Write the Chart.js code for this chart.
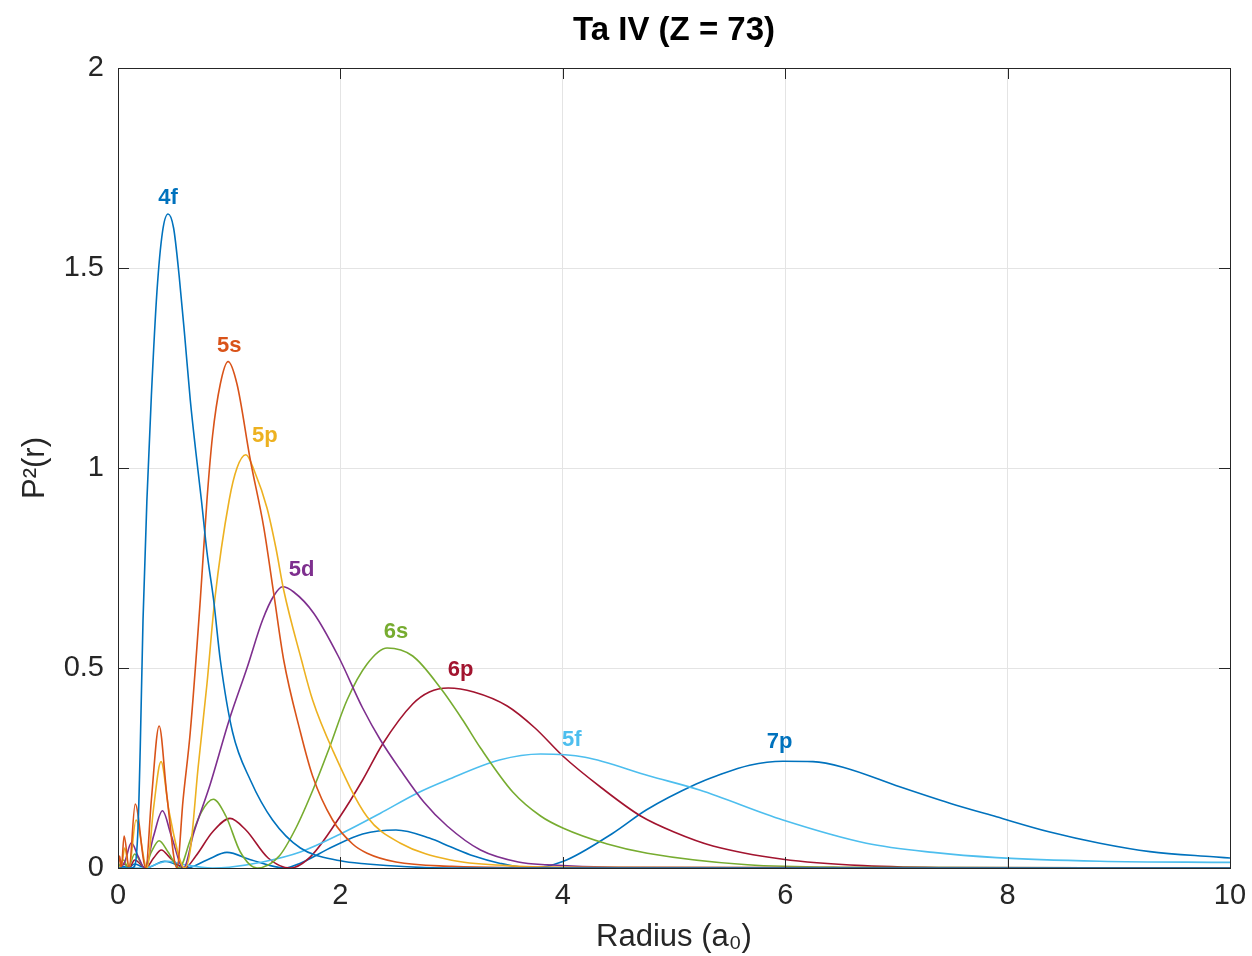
<!DOCTYPE html>
<html>
<head>
<meta charset="utf-8">
<script src="https://cdn.jsdelivr.net/npm/chart.js@4"></script>
<style>
  html, body { margin: 0; padding: 0; background: #fff; }
  #wrap { width: 1252px; height: 956px; }
</style>
</head>
<body>
<div id="wrap"><canvas id="orbChart" width="1252" height="956"></canvas></div>
<script>
// radial densities P^2(r), r in a0
const r4f = [0, 0.12, 0.15, 0.18, 0.2, 0.225, 0.26, 0.3, 0.35, 0.4, 0.45, 0.5, 0.55, 0.6, 0.65, 0.7, 0.75, 0.8, 0.86, 0.92, 1.03, 1.19, 1.39, 1.64, 2.0, 2.24, 2.6, 3.0, 10];
const p4f = [0, 0, 0.005, 0.1, 0.3, 0.62, 0.92, 1.18, 1.44, 1.59, 1.635, 1.6, 1.48, 1.33, 1.17, 1.04, 0.92, 0.79, 0.67, 0.52, 0.34, 0.22, 0.12, 0.05, 0.018, 0.01, 0.003, 0, 0];

const r5s = [0, 0.015, 0.03, 0.055, 0.1, 0.155, 0.25, 0.3, 0.37, 0.44, 0.53, 0.585, 0.65, 0.74, 0.8, 0.85, 0.92, 0.99, 1.07, 1.19, 1.31, 1.4, 1.49, 1.64, 1.75, 1.93, 2.11, 2.24, 2.5, 3.0, 3.5, 10];
const p5s = [0, 0.03, 0, 0.08, 0, 0.16, 0, 0.17, 0.355, 0.18, 0, 0.17, 0.34, 0.67, 0.92, 1.08, 1.21, 1.266, 1.21, 1.02, 0.853, 0.687, 0.52, 0.34, 0.23, 0.12, 0.06, 0.037, 0.015, 0.004, 0.001, 0];

const r5p = [0, 0.035, 0.06, 0.1, 0.162, 0.26, 0.32, 0.387, 0.46, 0.6, 0.65, 0.72, 0.8, 0.87, 1.0, 1.07, 1.15, 1.23, 1.34, 1.42, 1.49, 1.65, 1.75, 1.93, 2.24, 2.54, 2.99, 3.5, 4.0, 10];
const p5p = [0, 0.01, 0.05, 0, 0.12, 0, 0.15, 0.266, 0.14, 0, 0.045, 0.25, 0.46, 0.67, 0.92, 1.0, 1.033, 0.99, 0.9, 0.8, 0.695, 0.52, 0.42, 0.295, 0.128, 0.062, 0.02, 0.006, 0.002, 0];

const r5d = [0, 0.06, 0.12, 0.18, 0.24, 0.32, 0.4, 0.48, 0.59, 0.68, 0.83, 1.0, 1.16, 1.3, 1.4, 1.48, 1.58, 1.76, 1.98, 2.2, 2.36, 2.54, 2.75, 2.96, 3.26, 3.6, 3.86, 4.5, 10];
const p5d = [0, 0.015, 0.063, 0.03, 0, 0.08, 0.143, 0.08, 0, 0.087, 0.21, 0.37, 0.5, 0.62, 0.68, 0.703, 0.69, 0.637, 0.53, 0.4, 0.32, 0.245, 0.165, 0.105, 0.045, 0.015, 0.008, 0.002, 0];

const r6s = [0, 0.05, 0.09, 0.15, 0.24, 0.3, 0.37, 0.45, 0.55, 0.65, 0.75, 0.857, 0.97, 1.1, 1.25, 1.45, 1.6, 1.76, 1.9, 2.06, 2.24, 2.42, 2.65, 2.9, 3.1, 3.26, 3.55, 3.8, 4.0, 4.4, 4.76, 5.66, 6.5, 10];
const p6s = [0, 0.02, 0, 0.035, 0, 0.04, 0.068, 0.04, 0, 0.07, 0.14, 0.172, 0.13, 0.04, 0, 0.03, 0.1, 0.2, 0.3, 0.42, 0.51, 0.55, 0.53, 0.45, 0.37, 0.30, 0.19, 0.13, 0.10, 0.06, 0.037, 0.008, 0.002, 0];

const r5f = [0, 0.25, 0.35, 0.45, 0.6, 0.85, 1.0, 1.3, 1.64, 2.0, 2.36, 2.69, 2.96, 3.43, 3.8, 4.2, 4.78, 5.23, 5.98, 6.73, 7.33, 7.9, 8.83, 10];
const p5f = [0, 0, 0.01, 0.017, 0.008, 0, 0.002, 0.015, 0.04, 0.085, 0.137, 0.187, 0.22, 0.27, 0.285, 0.277, 0.23, 0.195, 0.12, 0.062, 0.039, 0.026, 0.017, 0.014];

const r6p = [0, 0.06, 0.1, 0.15, 0.25, 0.32, 0.39, 0.47, 0.6, 0.7, 0.85, 1.007, 1.15, 1.35, 1.55, 1.73, 2.0, 2.2, 2.38, 2.65, 2.8, 2.97, 3.2, 3.5, 3.75, 4.0, 4.35, 4.7, 5.0, 5.35, 5.98, 6.7, 7.5, 10];
const p6p = [0, 0.01, 0, 0.02, 0, 0.025, 0.045, 0.025, 0, 0.03, 0.09, 0.124, 0.095, 0.025, 0, 0.028, 0.13, 0.22, 0.31, 0.41, 0.44, 0.45, 0.44, 0.405, 0.35, 0.28, 0.2, 0.13, 0.09, 0.055, 0.022, 0.006, 0.001, 0];

const r7p = [0, 0.05, 0.09, 0.15, 0.25, 0.42, 0.62, 0.8, 0.98, 1.2, 1.5, 1.64, 1.93, 2.2, 2.5, 2.8, 2.99, 3.2, 3.43, 3.72, 4.0, 4.45, 4.75, 5.2, 5.38, 5.68, 5.98, 6.25, 6.52, 7.03, 7.48, 7.9, 8.38, 8.83, 9.28, 9.85, 10];
const p7p = [0, 0.004, 0, 0.01, 0, 0.017, 0, 0.02, 0.039, 0.02, 0, 0.012, 0.053, 0.085, 0.095, 0.075, 0.053, 0.03, 0.012, 0, 0.016, 0.087, 0.145, 0.21, 0.23, 0.257, 0.267, 0.266, 0.252, 0.203, 0.162, 0.128, 0.09, 0.062, 0.041, 0.028, 0.025];

const orbitals = ['4f', '5s', '5p', '5d', '6s', '5f', '6p', '7p'];
const radii = [r4f, r5s, r5p, r5d, r6s, r5f, r6p, r7p];
const densities = [p4f, p5s, p5p, p5d, p6s, p5f, p6p, p7p];
// where each orbital name sits (data coords)
const labelR = [0.45, 1.0, 1.32, 1.65, 2.5, 4.08, 3.08, 5.95];
const labelP = [1.675, 1.305, 1.08, 0.745, 0.59, 0.32, 0.495, 0.315];

const xTicks = [0, 2, 4, 6, 8, 10];
const yTicks = [0, 0.5, 1, 1.5, 2];

const colors = ['#0072BD', '#D95319', '#EDB120', '#7E2F8E', '#77AC30', '#4DBEEE', '#A2142F', '#0072BD'];
const FONT = "'Liberation Sans', Arial, Helvetica, sans-serif";
const INK = '#262626';

const datasets = orbitals.map((name, i) => ({
  label: name,
  data: radii[i].map((r, j) => ({ x: r, y: densities[i][j] })),
  borderColor: colors[i],
  borderWidth: 1.6,
  pointRadius: 0,
  cubicInterpolationMode: 'monotone',
  fill: false
}));

// box, inward ticks, title and orbital labels
const decor = {
  id: 'decor',
  afterDraw(chart) {
    const { ctx, chartArea: a, scales: { x, y } } = chart;
    ctx.save();
    ctx.strokeStyle = INK;
    ctx.lineWidth = 1;
    ctx.strokeRect(a.left + 0.5, a.top + 0.5, a.right - a.left, a.bottom - a.top);
    ctx.beginPath();
    xTicks.forEach(v => {
      const px = Math.round(x.getPixelForValue(v)) + 0.5;
      ctx.moveTo(px, a.bottom); ctx.lineTo(px, a.bottom - 11);
      ctx.moveTo(px, a.top); ctx.lineTo(px, a.top + 11);
    });
    yTicks.forEach(v => {
      const py = Math.round(y.getPixelForValue(v)) + 0.5;
      ctx.moveTo(a.left, py); ctx.lineTo(a.left + 11, py);
      ctx.moveTo(a.right, py); ctx.lineTo(a.right - 11, py);
    });
    ctx.stroke();

    ctx.fillStyle = '#000';
    ctx.font = 'bold 33px ' + FONT;
    ctx.textAlign = 'center';
    ctx.textBaseline = 'middle';
    ctx.fillText('Ta IV (Z = 73)', (a.left + a.right) / 2, 31);

    ctx.font = 'bold 22px ' + FONT;
    orbitals.forEach((name, i) => {
      ctx.fillStyle = colors[i];
      ctx.fillText(name, x.getPixelForValue(labelR[i]), y.getPixelForValue(labelP[i]));
    });
    ctx.restore();
  }
};

new Chart(document.getElementById('orbChart'), {
  type: 'line',
  data: { datasets },
  options: {
    responsive: false,
    animation: false,
    layout: { padding: { top: 68, right: 22, left: 0, bottom: 0 } },
    plugins: { legend: { display: false }, tooltip: { enabled: false }, title: { display: false } },
    scales: {
      x: {
        type: 'linear', min: 0, max: 10,
        afterFit: s => { s.height = 88; s.paddingLeft = 0; s.paddingRight = 0; },
        afterBuildTicks: s => { s.ticks = xTicks.map(v => ({ value: v })); },
        ticks: { color: INK, font: { family: FONT, size: 29 }, padding: 11, maxRotation: 0, callback: v => String(v) },
        grid: { color: '#e4e4e4', drawTicks: false },
        border: { display: false },
        title: { display: true, text: 'Radius (a\u2080)', color: INK, font: { family: FONT, size: 31 }, padding: { top: 0, bottom: 0 } }
      },
      y: {
        type: 'linear', min: 0, max: 2,
        afterFit: s => { s.width = 118; s.paddingTop = 0; s.paddingBottom = 0; },
        afterBuildTicks: s => { s.ticks = yTicks.map(v => ({ value: v })); },
        ticks: { color: INK, font: { family: FONT, size: 29 }, padding: 14, callback: v => String(v) },
        grid: { color: '#e4e4e4', drawTicks: false },
        border: { display: false },
        title: { display: true, text: 'P\u00b2(r)', color: INK, font: { family: FONT, size: 31 }, padding: { top: 17, bottom: 0 } }
      }
    }
  },
  plugins: [decor]
});
</script>
</body>
</html>
